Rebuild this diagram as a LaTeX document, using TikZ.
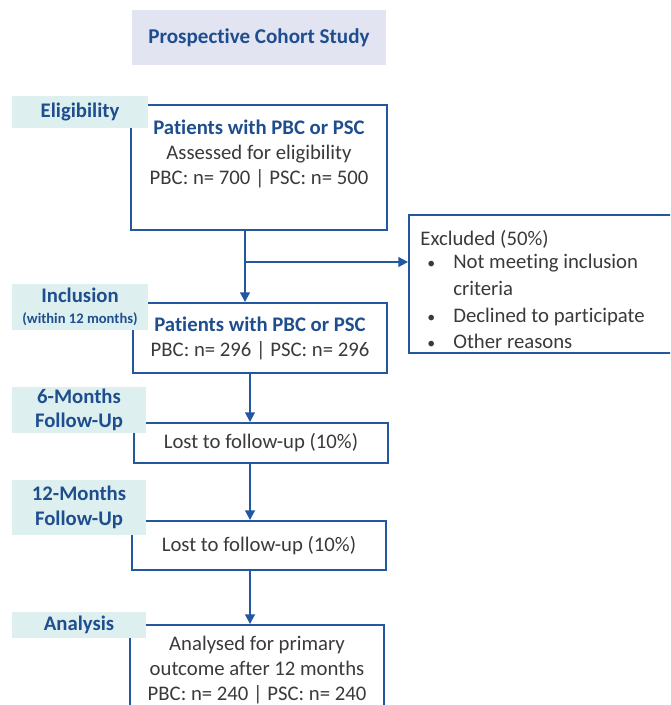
\documentclass[tikz,border=0pt]{standalone}
\usepackage{fontspec}
\setmainfont{Carlito}[Ligatures=NoCommon]
\usetikzlibrary{arrows.meta}
\definecolor{navy}{HTML}{1F4E8F}
\definecolor{frame}{HTML}{2358A0}
\definecolor{lavender}{HTML}{E3E4F2}
\definecolor{mint}{HTML}{DDF0EF}
\definecolor{ink}{HTML}{3A3A3A}
\newcommand{\smallbullet}{{\fontsize{9}{9}\selectfont\textbullet}}
\begin{document}
\begin{tikzpicture}[x=0.02cm, y=-0.02cm,
        box/.style={draw=frame, line width=1.1pt, fill=white, inner sep=0pt},
        txt/.style={text=ink, align=center, font=\fontsize{11.8}{14.2}\selectfont},
        stage/.style={fill=mint, inner sep=0pt, text=navy, align=center, font=\fontsize{11.8}{14}\selectfont\bfseries},
        flow/.style={draw=frame, line width=1.1pt, -{Triangle[length=5.5pt,width=5.5pt]}}]
            \clip (0,0) rectangle (670,705);
            \node[fill=lavender, minimum width=5.08cm, minimum height=1.1cm, text=navy, font=\fontsize{12}{14}\selectfont\bfseries] (title) at (259,37.5) {Prospective Cohort Study};
            % boxes
            \node[box, minimum width=5.12cm, minimum height=2.5cm] (elig) at (259,167.5) {};
            \node[txt, anchor=north] (eligtxt) at ([yshift=-0.2cm]elig.north) {\textcolor{navy}{\bfseries Patients with PBC or PSC}\\Assessed for eligibility\\PBC: n= 700 | PSC: n= 500};
            \node[box, minimum width=5.42cm, minimum height=2.76cm] (excl) at (544.5,284) {};
            \node[txt, align=left, anchor=north west, inner sep=0pt] (excltxt) at ([xshift=0.24cm, yshift=-0.32cm]excl.north west) {Excluded (50\%)\\[0pt]
                \renewcommand{\arraystretch}{1.07}%
                \begin{tabular}{@{\hspace{0.14cm}}l@{\hspace{0.36cm}}l@{}}
                \smallbullet & Not meeting inclusion\\
                             & criteria\\
                \smallbullet & Declined to participate\\
                \smallbullet & Other reasons
                \end{tabular}};
            \node[box, txt, minimum width=5.08cm, minimum height=1.4cm] (incl) at (260,338) {\textcolor{navy}{\bfseries Patients with PBC or PSC}\\PBC: n= 296 | PSC: n= 296};
            \node[box, txt, minimum width=5.08cm, minimum height=0.8cm] (fu6) at (261,443) {Lost to follow-up (10\%)};
            \node[box, txt, minimum width=5.08cm, minimum height=0.98cm] (fu12) at (259,545.5) {Lost to follow-up (10\%)};
            \node[box, minimum width=5.08cm, minimum height=1.9cm] (ana) at (257,672.5) {};
            \node[txt, anchor=north] (anatxt) at ([yshift=-0.12cm]ana.north) {Analysed for primary\\outcome after 12 months\\PBC: n= 240 | PSC: n= 240};
            % connectors
            \coordinate (split) at (245,262);
            \coordinate (spine) at (250,0);
            \draw[flow, -] (elig.south -| split) -- (split);
            \draw[flow] (split) -- (incl.north -| split);
            \draw[flow] (split) -- (excl.west |- split);
            \draw[flow] (incl.south -| spine) -- (fu6.north -| spine);
            \draw[flow] (fu6.south -| spine) -- (fu12.north -| spine);
            \draw[flow] (fu12.south -| spine) -- (ana.north -| spine);
            % stage labels on top
            \node[stage, minimum width=2.72cm, minimum height=0.64cm] (lelig) at (80,112) {Eligibility};
            \node[stage, minimum width=2.72cm, minimum height=0.92cm] (lincl) at (80,307) {Inclusion\\[-2pt]{\fontsize{8.3}{9}\selectfont(within 12 months)}};
            \node[stage, minimum width=2.68cm, minimum height=0.92cm] (lfu6) at (79,410) {6-Months\\Follow-Up};
            \node[stage, minimum width=2.68cm, minimum height=1.1cm] (lfu12) at (79,507.5) {12-Months\\Follow-Up};
            \node[stage, minimum width=2.68cm, minimum height=0.52cm] (lana) at (79,625) {Analysis};
        \end{tikzpicture}
\end{document}
